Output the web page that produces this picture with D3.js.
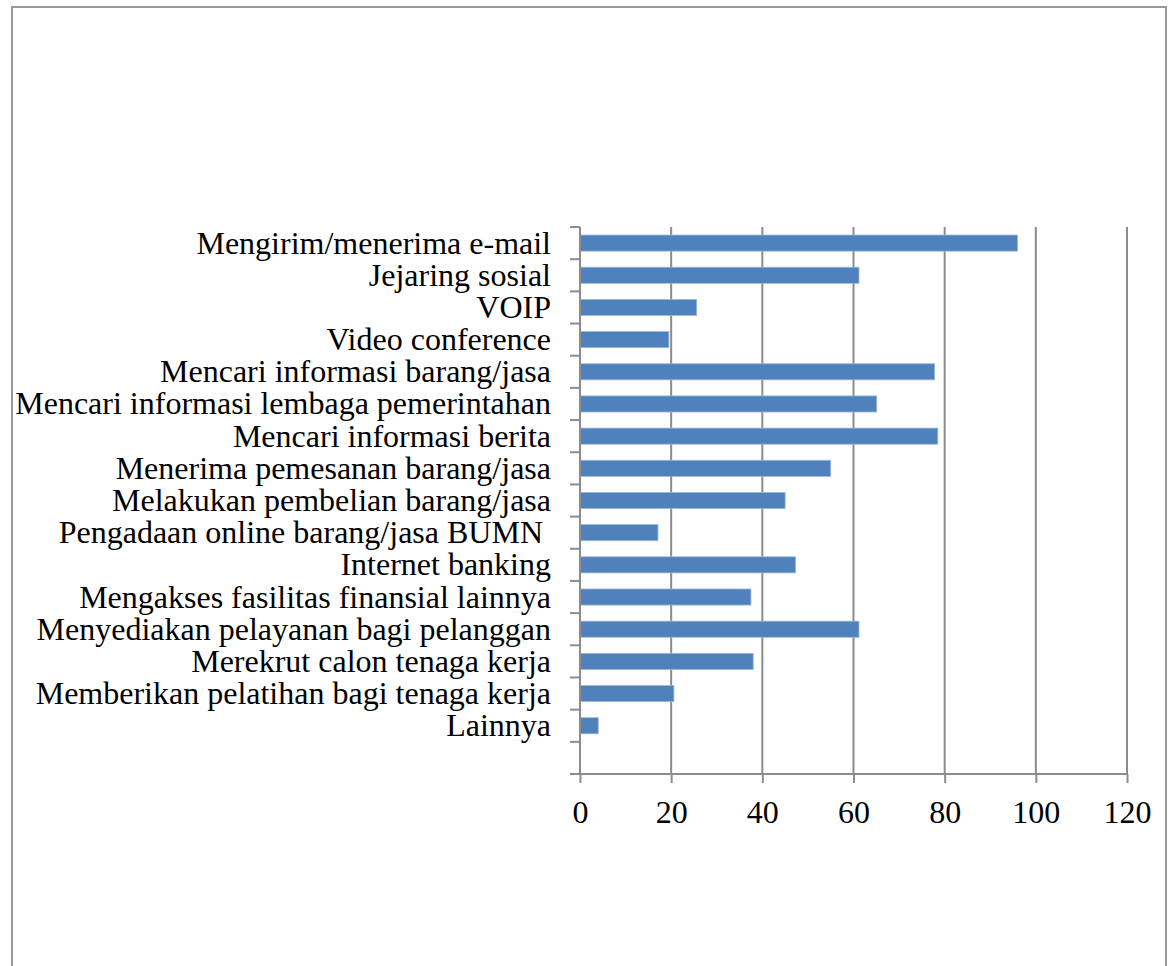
<!DOCTYPE html>
<html>
<head>
<meta charset="utf-8">
<script src="https://cdn.jsdelivr.net/npm/d3@7"></script>
<style>
  html, body { margin: 0; padding: 0; background: #fff; }
  svg { display: block; }
</style>
</head>
<body>
<svg id="chart" width="1170" height="966"></svg>
<script>
const categories = [
  "Mengirim/menerima e-mail",
  "Jejaring sosial",
  "VOIP",
  "Video conference",
  "Mencari informasi barang/jasa",
  "Mencari informasi lembaga pemerintahan",
  "Mencari informasi berita",
  "Menerima pemesanan barang/jasa",
  "Melakukan pembelian barang/jasa",
  "Pengadaan online barang/jasa BUMN ",
  "Internet banking",
  "Mengakses fasilitas finansial lainnya",
  "Menyediakan pelayanan bagi pelanggan",
  "Merekrut calon tenaga kerja",
  "Memberikan pelatihan bagi tenaga kerja",
  "Lainnya",
  ""
];
const values = [96, 61.2, 25.6, 19.5, 77.8, 65.1, 78.5, 55.0, 45.0, 17.1, 47.3, 37.5, 61.2, 38.0, 20.6, 4.0, null];
const xTicks = [0, 20, 40, 60, 80, 100, 120];

(function () {
const svg = d3.select("#chart");
const pLeft = 580, pRight = 1127, pTop = 227, pBottom = 774;

// frame
svg.append("rect").attr("x", 12).attr("y", 7).attr("width", 1154).attr("height", 980)
  .attr("fill", "none").attr("stroke", "#999").attr("stroke-width", 2);

const x = d3.scaleLinear().domain([0, 120]).range([pLeft, pRight]);
const y = d3.scaleBand().domain(d3.range(categories.length)).range([pTop, pBottom]).paddingInner(0.5).paddingOuter(0.25);

const gridColor = "#8c8c8c";

// gridlines
svg.append("g").selectAll("line").data(xTicks.slice(1)).join("line")
  .attr("x1", d => x(d)).attr("x2", d => x(d))
  .attr("y1", pTop).attr("y2", pBottom)
  .attr("stroke", gridColor).attr("stroke-width", 2);

// bars
const barData = values.map((v, i) => ({ v, i })).filter(d => d.v != null);
svg.append("g").selectAll("rect").data(barData).join("rect")
  .attr("x", x(0)).attr("y", d => y(d.i))
  .attr("width", d => x(d.v) - x(0)).attr("height", y.bandwidth())
  .attr("fill", "#4F81BD").attr("stroke", "#9BB7DA").attr("stroke-width", 0.8);

// x axis
const xAxis = d3.axisBottom(x).tickValues(xTicks).tickSize(9).tickPadding(17).tickFormat(d3.format("d"));
const gx = svg.append("g").attr("transform", `translate(0,${pBottom})`).call(xAxis);
gx.select(".domain").attr("stroke", gridColor).attr("stroke-width", 2).attr("d", `M${pLeft},0H${pRight}`);
gx.selectAll(".tick line").attr("stroke", gridColor).attr("stroke-width", 2);
gx.selectAll(".tick text").attr("font-family", "'Liberation Serif', 'Times New Roman', serif")
  .attr("font-size", 32).attr("fill", "#000").attr("dy", "0.71em");

// y axis line and boundary ticks
const yLin = d3.scaleLinear().domain([0, categories.length]).range([pTop, pBottom]);
svg.append("line").attr("x1", pLeft).attr("x2", pLeft).attr("y1", pTop).attr("y2", pBottom)
  .attr("stroke", gridColor).attr("stroke-width", 2);
svg.append("g").selectAll("line").data(d3.range(categories.length + 1)).join("line")
  .attr("x1", pLeft - 10).attr("x2", pLeft)
  .attr("y1", d => yLin(d)).attr("y2", d => yLin(d))
  .attr("stroke", gridColor).attr("stroke-width", 2);

// category labels
svg.append("g").selectAll("text").data(categories).join("text")
  .attr("x", 551).attr("y", (d, i) => y(i) + y.bandwidth() / 2 + 10.5)
  .attr("text-anchor", "end")
  .attr("font-family", "'Liberation Serif', 'Times New Roman', serif")
  .attr("font-size", 32).attr("fill", "#000")
  .style("white-space", "pre")
  .text(d => d);
})();
</script>
</body>
</html>
